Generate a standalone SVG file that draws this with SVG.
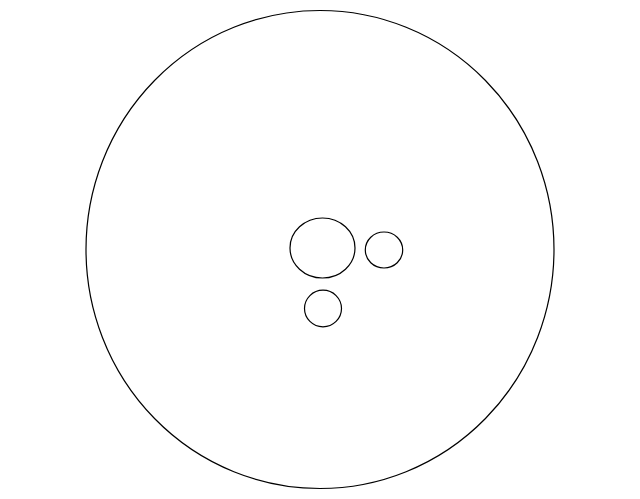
<svg xmlns="http://www.w3.org/2000/svg" width="640" height="499" viewBox="0 0 640 499">
<style>
.s{fill:none;stroke:#000;stroke-width:1.2}
</style>
<rect width="640" height="499" fill="#fff"/>
<g id="outer"><ellipse class="s" cx="320" cy="249.5" rx="234" ry="239"/></g>
<g id="big"><ellipse class="s" cx="322.5" cy="248" rx="32.5" ry="30"/></g>
<g id="right"><ellipse class="s" cx="384" cy="250" rx="18.7" ry="18"/></g>
<g id="bottom"><ellipse class="s" cx="323" cy="308.5" rx="18.5" ry="18.3"/></g>
<g id="connectors"></g>
</svg>
